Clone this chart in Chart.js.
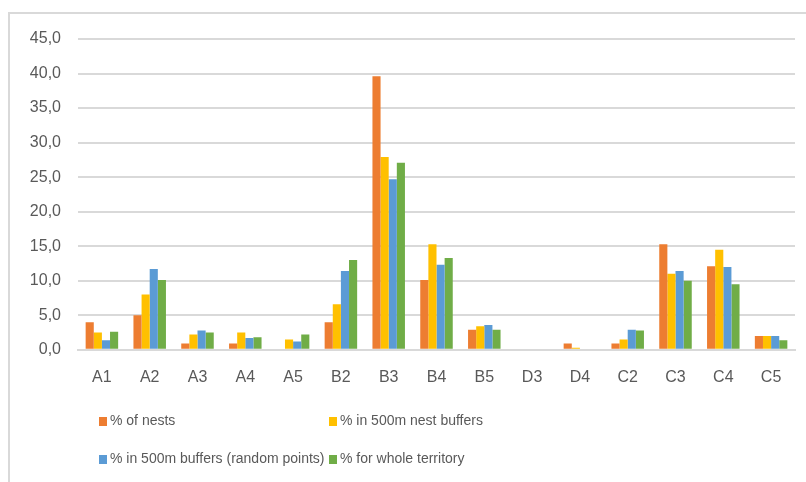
<!DOCTYPE html>
<html>
<head>
<meta charset="utf-8">
<script src="https://cdn.jsdelivr.net/npm/chart.js@4"></script>
<style>
  body { margin: 0; background: #fff; }
  #wrap { position: relative; width: 806px; height: 482px; overflow: hidden; }
  #frame { position: absolute; left: 8px; top: 12px; width: 820px; height: 500px; border: 2px solid #d9d9d9; box-sizing: border-box; }
  canvas { position: absolute; left: 0; top: 0; }
  .leg { position: absolute; font-family: "Liberation Sans", Arial, sans-serif; font-size: 14px; color: #595959; white-space: nowrap; }
  .leg span.box { display: inline-block; width: 8px; height: 9px; margin-right: 3px; vertical-align: -1px; }
</style>
</head>
<body>
<div id="wrap">
  <div id="frame"></div>
  <canvas id="chart" width="806" height="482"></canvas>
  <div id="legend"></div>
</div>
<script>
// categories on the x axis
const categories = ["A1", "A2", "A3", "A4", "A5", "B2", "B3", "B4", "B5", "D3", "D4", "C2", "C3", "C4", "C5"];

// series values (percent)
const nests        = [4.0, 5.0, 0.9, 0.9, 0.0, 4.0, 39.6, 10.1, 2.9, 0.0, 0.9, 0.9, 15.3, 12.1, 2.0];
const nestBuffers  = [2.5, 8.0, 2.2, 2.5, 1.5, 6.6, 27.9, 15.3, 3.4, 0.0, 0.3, 1.5, 11.0, 14.5, 2.0];
const randBuffers  = [1.4, 11.7, 2.8, 1.7, 1.2, 11.4, 24.7, 12.3, 3.6, 0.0, 0.0, 2.9, 11.4, 12.0, 2.0];
const wholeTerr    = [2.6, 10.1, 2.5, 1.8, 2.2, 13.0, 27.1, 13.3, 2.9, 0.0, 0.0, 2.8, 10.0, 9.5, 1.4];

const seriesLabels = ["% of nests", "% in 500m nest buffers", "% in 500m buffers (random points)", "% for whole territory"];
const seriesColors = ["#ED7D31", "#FFC000", "#5B9BD5", "#70AD47"];

const allSeries = [nests, nestBuffers, randBuffers, wholeTerr];
const datasets = allSeries.map((vals, i) => ({
  label: seriesLabels[i],
  data: vals,
  backgroundColor: seriesColors[i],
  borderWidth: 0,
  categoryPercentage: 0.68,
  barPercentage: 1.0,
}));

const fontFamily = '"Liberation Sans", Arial, sans-serif';

const chart = new Chart(document.getElementById("chart"), {
  type: "bar",
  data: { labels: categories, datasets: datasets },
  options: {
    responsive: false,
    animation: false,
    layout: { padding: { top: 39, right: 11, bottom: 77, left: 0 } },
    plugins: { legend: { display: false }, tooltip: { enabled: false } },
    scales: {
      x: {
        grid: { display: false, drawTicks: false },
        border: { color: "#d9d9d9", width: 2 },
        ticks: { color: "#595959", font: { family: fontFamily, size: 16 }, padding: 18, maxRotation: 0 },
      },
      y: {
        min: 0,
        max: 45,
        afterFit: (scale) => { scale.width = 78; },
        grid: { color: "#d9d9d9", lineWidth: 2, drawTicks: false },
        border: { display: false },
        ticks: {
          stepSize: 5,
          padding: 17,
          color: "#595959",
          font: { family: fontFamily, size: 16 },
          callback: (v) => v.toFixed(1).replace(".", ","),
        },
      },
    },
  },
});

// legend laid out in two columns like the original
const legendPos = [[99, 412], [329, 412], [99, 450], [329, 450]];
const legendDiv = document.getElementById("legend");
seriesLabels.forEach((lab, i) => {
  const d = document.createElement("div");
  d.className = "leg";
  d.style.left = legendPos[i][0] + "px";
  d.style.top = legendPos[i][1] + "px";
  d.innerHTML = '<span class="box" style="background:' + seriesColors[i] + '"></span>' + lab;
  legendDiv.appendChild(d);
});
</script>
</body>
</html>
